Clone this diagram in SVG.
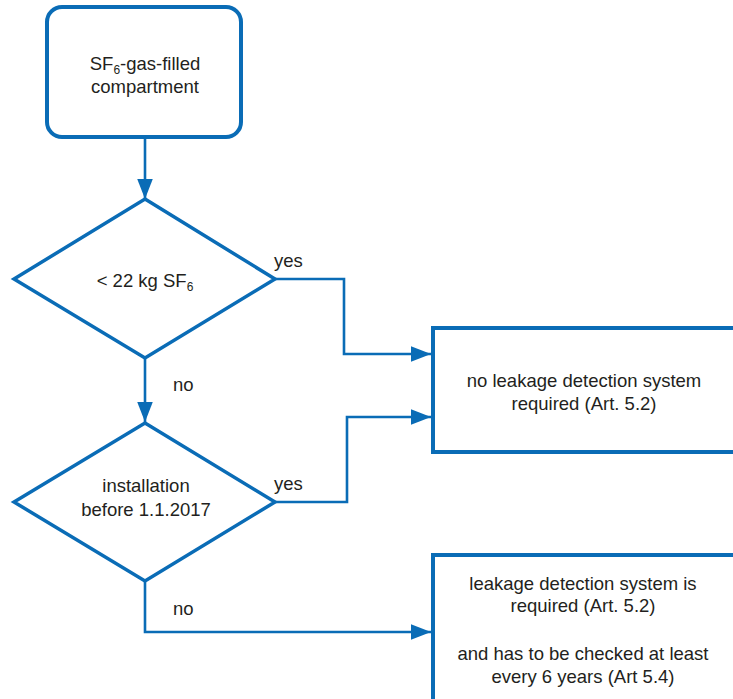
<svg xmlns="http://www.w3.org/2000/svg" width="733" height="699" viewBox="0 0 733 699">
  <style>
    .node { fill: #ffffff; stroke: #0a6cb6; stroke-width: 4; }
    .dia { fill: #ffffff; stroke: #0a6cb6; stroke-width: 3.5; stroke-linejoin: miter; }
    .conn { fill: none; stroke: #0a6cb6; stroke-width: 2.6; }
    text { font-family: "Liberation Sans", Arial, sans-serif; font-size: 18.5px; fill: #231f20; }
    .c { text-anchor: middle; }
    .sub { font-size: 12px; }
  </style>
  <defs>
    <marker id="arr" markerUnits="userSpaceOnUse" markerWidth="20" markerHeight="16" viewBox="0 0 18 14" refX="18" refY="7" orient="auto">
      <path d="M0,0 L18,7 L0,14 Z" fill="#0a6cb6"/>
    </marker>
  </defs>

  <g id="connectors">
    <path class="conn" d="M145,137 V199" marker-end="url(#arr)"/>
    <path class="conn" d="M145,358 V422" marker-end="url(#arr)"/>
    <path class="conn" d="M275,279 H344 V354 H431" marker-end="url(#arr)"/>
    <path class="conn" d="M275,502 H347 V417 H431" marker-end="url(#arr)"/>
    <path class="conn" d="M145,581 V632 H431" marker-end="url(#arr)"/>
    <text x="274" y="267">yes</text>
    <text x="274" y="490">yes</text>
    <text x="173" y="391">no</text>
    <text x="173" y="615">no</text>
  </g>

  <g id="start">
    <rect class="node" x="47" y="7" width="194" height="130" rx="15" ry="15"/>
    <text class="c" x="145" y="70">SF<tspan class="sub" dy="4">6</tspan><tspan dy="-4">-gas-filled</tspan></text>
    <text class="c" x="145" y="93">compartment</text>
  </g>

  <g id="decision1">
    <polygon class="dia" points="145,199 275,279 145,358 14,279"/>
    <text class="c" x="145" y="287">&lt; 22 kg SF<tspan class="sub" dy="4">6</tspan></text>
  </g>

  <g id="decision2">
    <polygon class="dia" points="145,423 275,502 145,581 14,502"/>
    <text class="c" x="146" y="492">installation</text>
    <text class="c" x="146" y="516">before 1.1.2017</text>
  </g>

  <g id="result1">
    <rect class="node" x="433" y="328" width="330" height="124"/>
    <text class="c" x="584" y="387">no leakage detection system</text>
    <text class="c" x="584" y="410">required (Art. 5.2)</text>
  </g>

  <g id="result2">
    <rect class="node" x="433" y="555" width="330" height="200"/>
    <text class="c" x="583" y="590">leakage detection system is</text>
    <text class="c" x="583" y="612">required (Art. 5.2)</text>
    <text class="c" x="583" y="660">and has to be checked at least</text>
    <text class="c" x="583" y="683">every 6 years (Art 5.4)</text>
  </g>
</svg>
